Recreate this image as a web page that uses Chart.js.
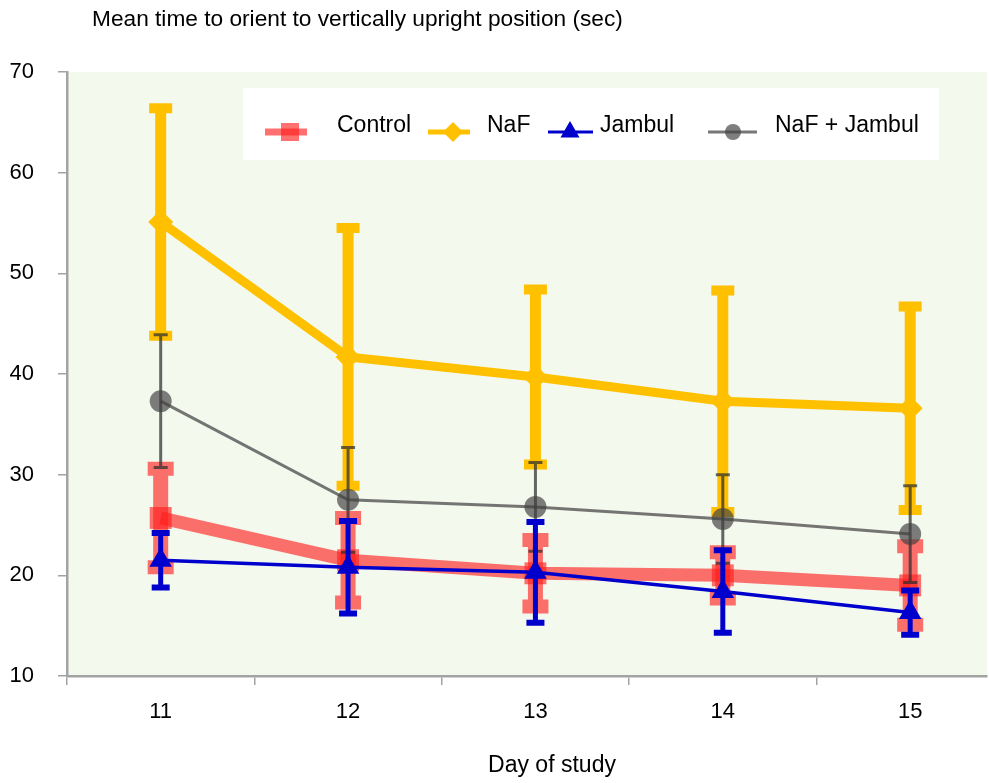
<!DOCTYPE html>
<html><head><meta charset="utf-8">
<script src="https://cdn.jsdelivr.net/npm/chart.js@4.4.1/dist/chart.umd.min.js"></script>
<style>html,body{margin:0;padding:0;background:#fff;}#wrap{width:989px;height:783px;}</style>
</head><body><div id="wrap"><canvas id="c" width="989" height="783"></canvas></div>
<script>
// ---- data ----
const categories = [11, 12, 13, 14, 15];
const controlMean = [25.7, 21.5, 20.2, 20.0, 19.0];
const controlErr  = [4.9, 4.2, 3.3, 2.3, 3.9];
const nafMean     = [55.1, 41.7, 39.7, 37.3, 36.6];
const nafErr      = [11.3, 12.8, 8.7, 11.0, 10.1];
const jambulMean  = [21.5, 20.8, 20.3, 18.4, 16.3];
const jambulErr   = [2.7, 4.6, 5.0, 4.1, 2.2];
const comboMean   = [37.3, 27.5, 26.8, 25.6, 24.1];
const comboErr    = [6.6, 5.2, 4.4, 4.4, 4.8];
const yTicks = [10, 20, 30, 40, 50, 60, 70];
const seriesNames = ['Control', 'NaF', 'Jambul', 'NaF + Jambul'];
const yAxisTitle = 'Mean time to orient to vertically upright position (sec)';
const xAxisTitle = 'Day of study';

const FONT = '"Liberation Sans", Arial, Helvetica, sans-serif';
const AXIS = '#A3A3A3';
const RED = 'rgba(255,30,30,0.63)';
const ORANGE = '#FFC000';
const BLUE = '#0000CC';
const GREY = 'rgba(55,55,55,0.68)';

const toPts = arr => categories.map((c, i) => ({x: c, y: arr[i]}));

const bgPlugin = {
  id: 'bg',
  beforeDraw(chart) {
    const {ctx, chartArea: a} = chart;
    ctx.save();
    ctx.fillStyle = '#F4F9EE';
    ctx.fillRect(a.left, a.top, a.right - a.left, a.bottom - a.top);
    ctx.restore();
  }
};

const errPlugin = {
  id: 'err',
  beforeDatasetDraw(chart, args) {
    const ds = chart.data.datasets[args.index];
    const eb = ds.errorBar;
    if (!eb) return;
    const ctx = chart.ctx, ys = chart.scales.y;
    ctx.save();
    ctx.fillStyle = eb.color;
    ctx.beginPath();
    args.meta.data.forEach((pt, i) => {
      const v = ds.data[i].y, e = ds.errors[i];
      const yt = ys.getPixelForValue(v + e), yb = ys.getPixelForValue(v - e);
      const x = pt.x;
      ctx.rect(x - eb.barWidth / 2, yt, eb.barWidth, yb - yt);
      ctx.rect(x - eb.capWidth / 2, yt - eb.capHeight / 2, eb.capWidth, eb.capHeight);
      ctx.rect(x - eb.capWidth / 2, yb - eb.capHeight / 2, eb.capWidth, eb.capHeight);
    });
    ctx.fill('nonzero');
    ctx.restore();
  }
};

function marker(ctx, style, x, y, r) {
  ctx.beginPath();
  if (style === 'rect') { ctx.rect(x - r, y - r, 2 * r, 2 * r); }
  else if (style === 'rectRot') { ctx.moveTo(x - r, y); ctx.lineTo(x, y - r); ctx.lineTo(x + r, y); ctx.lineTo(x, y + r); ctx.closePath(); }
  else if (style === 'triangle') { ctx.moveTo(x, y - r); ctx.lineTo(x + r * 0.866, y + r / 2); ctx.lineTo(x - r * 0.866, y + r / 2); ctx.closePath(); }
  else { ctx.arc(x, y, r, 0, Math.PI * 2); }
  ctx.fill();
}

const textPlugin = {
  id: 'texts',
  afterDraw(chart) {
    const ctx = chart.ctx;
    ctx.save();
    ctx.fillStyle = '#000';
    ctx.font = '22.7px ' + FONT;
    ctx.textBaseline = 'alphabetic';
    ctx.textAlign = 'left';
    ctx.fillText(yAxisTitle, 92, 26);
    ctx.font = '23px ' + FONT;
    ctx.textAlign = 'center';
    ctx.fillText(xAxisTitle, 552, 772);
    // legend box
    ctx.fillStyle = '#FFFFFF';
    ctx.fillRect(243, 88, 696, 72);
    const items = [
      {x1: 265, x2: 307, mx: 290, tx: 337, lw: 7, ms: 'rect', mr: 9},
      {x1: 428, x2: 470, mx: 453, tx: 487, lw: 5, ms: 'rectRot', mr: 10},
      {x1: 548, x2: 593, mx: 570, tx: 600, lw: 3, ms: 'triangle', mr: 11},
      {x1: 708, x2: 757, mx: 733, tx: 775, lw: 3, ms: 'circle', mr: 8}
    ];
    const ly = 132;
    chart.data.datasets.forEach((ds, i) => {
      const it = items[i];
      ctx.strokeStyle = ds.borderColor;
      ctx.lineWidth = it.lw;
      ctx.beginPath(); ctx.moveTo(it.x1, ly); ctx.lineTo(it.x2, ly); ctx.stroke();
      ctx.fillStyle = ds.pointBackgroundColor;
      marker(ctx, it.ms, it.mx, ly, it.mr);
      ctx.fillStyle = '#000';
      ctx.textAlign = 'left';
      ctx.fillText(ds.label, it.tx, ly);
    });
    ctx.restore();
  }
};

const xTickVals = [];
categories.forEach(c => { xTickVals.push(c - 0.5); xTickVals.push(c); });

new Chart(document.getElementById('c'), {
  type: 'line',
  data: {
    datasets: [
      { label: seriesNames[0], data: toPts(controlMean), errors: controlErr, order: 2,
        borderColor: RED, borderWidth: 13, pointStyle: 'rect', pointRadius: 15.5,
        pointBackgroundColor: RED, pointBorderWidth: 0, tension: 0,
        errorBar: {color: RED, barWidth: 15, capWidth: 26, capHeight: 14} },
      { label: seriesNames[1], data: toPts(nafMean), errors: nafErr, order: 3,
        borderColor: ORANGE, borderWidth: 9, pointStyle: 'rectRot', pointRadius: 12.5,
        pointBackgroundColor: ORANGE, pointBorderWidth: 0, tension: 0,
        errorBar: {color: ORANGE, barWidth: 11, capWidth: 23, capHeight: 10} },
      { label: seriesNames[2], data: toPts(jambulMean), errors: jambulErr, order: 0,
        borderColor: BLUE, borderWidth: 3.5, pointStyle: 'triangle', pointRadius: 13,
        pointBackgroundColor: BLUE, pointBorderWidth: 0, tension: 0,
        errorBar: {color: BLUE, barWidth: 5, capWidth: 18, capHeight: 6} },
      { label: seriesNames[3], data: toPts(comboMean), errors: comboErr, order: 1,
        borderColor: GREY, borderWidth: 3, pointStyle: 'circle', pointRadius: 11,
        pointBackgroundColor: 'rgba(65,65,65,0.68)', pointBorderWidth: 0, tension: 0,
        errorBar: {color: 'rgba(45,45,45,0.72)', barWidth: 3, capWidth: 14, capHeight: 3} }
    ]
  },
  options: {
    responsive: false,
    animation: false,
    devicePixelRatio: 1,
    layout: {autoPadding: false, padding: {top: 72, right: 2, bottom: 0, left: 0}},
    plugins: {legend: {display: false}, tooltip: {enabled: false}, title: {display: false}},
    scales: {
      x: {
        type: 'linear', min: 10.5, max: 15.41,
        afterBuildTicks: s => { s.ticks = xTickVals.map(v => ({value: v})); },
        afterFit: s => { s.height = 107; s.paddingLeft = 0; s.paddingRight = 0; },
        ticks: {
          autoSkip: false, maxRotation: 0, padding: 14, color: '#000',
          font: {size: 22, family: FONT},
          callback: v => categories.includes(v) ? String(v) : ''
        },
        grid: {
          drawOnChartArea: false, drawTicks: true, tickLength: 9, lineWidth: 1.5,
          color: c => (c.tick && categories.includes(c.tick.value)) ? 'rgba(0,0,0,0)' : AXIS
        },
        border: {display: true, color: AXIS, width: 2.5}
      },
      y: {
        type: 'linear', min: 10, max: 70,
        afterBuildTicks: s => { s.ticks = yTicks.map(v => ({value: v})); },
        afterFit: s => { s.width = 67; s.paddingTop = 0; s.paddingBottom = 0; },
        ticks: {padding: 24, color: '#000', font: {size: 22, family: FONT}},
        grid: {drawOnChartArea: false, drawTicks: true, tickLength: 9, lineWidth: 1.5, color: AXIS},
        border: {display: true, color: AXIS, width: 2.5}
      }
    }
  },
  plugins: [bgPlugin, errPlugin, textPlugin]
});
</script>
</body></html>
